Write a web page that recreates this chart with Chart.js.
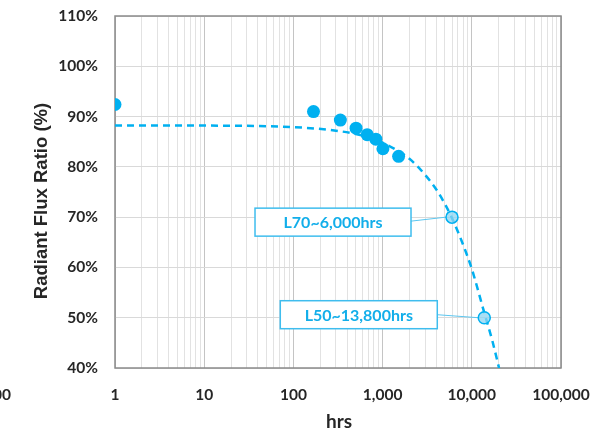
<!DOCTYPE html>
<html>
<head>
<meta charset="utf-8">
<script src="https://cdn.jsdelivr.net/npm/chart.js@4/dist/chart.umd.min.js"></script>
<style>
  html, body { margin: 0; padding: 0; background: #ffffff; }
  #wrap { width: 615px; height: 433px; position: relative; }
</style>
</head>
<body>
<div id="wrap"><canvas id="c" width="615" height="433"></canvas></div>
<script>
// ---- data ----
const xMajor = [1, 10, 100, 1000, 10000, 100000];
const xTickLabels = ['1', '10', '100', '1,000', '10,000', '100,000'];
const yTicks = [40, 50, 60, 70, 80, 90, 100, 110];

const measHours = [1, 168, 336, 504, 672, 840, 1008, 1512];
const measFlux  = [92.4, 91.0, 89.3, 87.7, 86.4, 85.5, 83.6, 82.1];

const fitHours = [1, 10, 100, 300, 600, 1000, 2000, 3000, 4000, 5000, 6000, 8000, 10000, 13800, 17000, 20200];
const fitFlux  = [88.2, 88.2, 87.9, 87.2, 86.2, 84.8, 81.6, 78.4, 75.5, 72.6, 69.8, 64.5, 59.7, 51.0, 45.4, 40.0];

const lifeLabels = ['L70~6,000hrs', 'L50~13,800hrs'];
const lifeHours  = [6000, 13800];
const lifeFlux   = [70, 50];

const yTitle = 'Radiant Flux Ratio (%)';
const xTitle = 'hrs';

// ---- styling ----
const BLUE = '#00B0F0';
const TXT = '#262626';
const FONT = 'Lato, "Open Sans", sans-serif';

const deco = {
  id: 'deco',
  beforeDatasetsDraw(chart) {
    const {ctx, chartArea: a, scales: {x, y}} = chart;
    ctx.save();
    // frame
    ctx.strokeStyle = '#8a8a8a';
    ctx.lineWidth = 1.5;
    ctx.strokeRect(a.left, a.top, a.right - a.left, a.bottom - a.top);
    // annotation boxes + leader lines
    const boxOff = [{dx: -41, dy: 5, w: 156, h: 28, ly: 4}, {dx: -47, dy: -3, w: 157, h: 28, ly: -3}];
    lifeLabels.forEach((lab, i) => {
      const px = x.getPixelForValue(lifeHours[i]);
      const py = y.getPixelForValue(lifeFlux[i]);
      const o = boxOff[i];
      const right = px + o.dx, cy = py + o.dy;
      const left = right - o.w, top = cy - o.h / 2;
      // leader
      ctx.strokeStyle = '#5cc6ef';
      ctx.lineWidth = 1;
      ctx.beginPath();
      ctx.moveTo(right, py + o.ly);
      ctx.lineTo(px - 6, py);
      ctx.stroke();
      // box
      ctx.fillStyle = '#ffffff';
      ctx.fillRect(left, top, o.w, o.h);
      ctx.strokeStyle = '#3fbdee';
      ctx.lineWidth = 1.5;
      ctx.strokeRect(left, top, o.w, o.h);
      ctx.fillStyle = '#12aeea';
      ctx.font = 'bold 16px ' + FONT;
      ctx.textAlign = 'center';
      ctx.textBaseline = 'middle';
      ctx.fillText(lab, left + o.w / 2, cy + 1);
    });
    ctx.restore();
  },
  afterDraw(chart) {
    const {ctx, chartArea: a} = chart;
    ctx.save();
    ctx.fillStyle = TXT;
    ctx.textAlign = 'center';
    ctx.textBaseline = 'middle';
    ctx.font = 'bold 19px ' + FONT;
    ctx.fillText(xTitle, (a.left + a.right) / 2 + 1, 422);
    ctx.translate(42, 201);
    ctx.rotate(-Math.PI / 2);
    ctx.font = 'bold 18.5px "Liberation Sans", Arial, sans-serif';
    ctx.fillText(yTitle, 0, 0);
    ctx.restore();
    // clipped leftover label at left edge
    ctx.save();
    ctx.fillStyle = TXT;
    ctx.font = 'bold 15.5px ' + FONT;
    ctx.textAlign = 'right';
    ctx.textBaseline = 'middle';
    ctx.fillText('100,000', 11, 395);
    ctx.restore();
  }
};

new Chart(document.getElementById('c'), {
  type: 'scatter',
  data: {
    datasets: [
      {
        label: 'life',
        data: lifeHours.map((h, i) => ({x: h, y: lifeFlux[i]})),
        showLine: false,
        pointRadius: 6,
        pointBackgroundColor: 'rgba(140, 212, 242, 0.75)',
        pointBorderColor: BLUE,
        pointBorderWidth: 1.5
      },
      {
        label: 'measured',
        data: measHours.map((h, i) => ({x: h, y: measFlux[i]})),
        showLine: false,
        pointRadius: 6.5,
        pointBackgroundColor: BLUE,
        pointBorderWidth: 0
      },
      {
        label: 'fit',
        data: fitHours.map((h, i) => ({x: h, y: fitFlux[i]})),
        showLine: true,
        borderColor: BLUE,
        borderWidth: 2.5,
        borderDash: [7, 5],
        pointRadius: 0,
        cubicInterpolationMode: 'monotone',
        clip: 0
      }
    ]
  },
  options: {
    responsive: false,
    animation: false,
    events: [],
    layout: {padding: {left: 0, top: 16, right: 54, bottom: 0}},
    plugins: {legend: {display: false}, tooltip: {enabled: false}},
    scales: {
      x: {
        type: 'logarithmic',
        min: 1,
        max: 100000,
        afterBuildTicks(scale) {
          const t = [];
          xMajor.forEach(m => {
            for (let k = 1; k <= 9; k++) {
              const v = m * k;
              if (v <= xMajor[xMajor.length - 1]) t.push({value: v});
            }
          });
          scale.ticks = t;
        },
        afterFit(s) { s.height = 65; s.paddingLeft = 0; s.paddingRight = 0; s.paddingTop = 0; s.paddingBottom = 0; },
        ticks: {
          autoSkip: false,
          maxRotation: 0,
          padding: 18,
          color: TXT,
          font: {family: FONT, size: 15.5, weight: 'bold'},
          callback: (v) => { const i = xMajor.indexOf(v); return i >= 0 ? xTickLabels[i] : ''; }
        },
        grid: {
          drawTicks: false,
          lineWidth: 1,
          color: (c) => (c.tick && xMajor.indexOf(c.tick.value) >= 0) ? '#c4c4c4' : '#e2e2e2'
        },
        border: {display: false}
      },
      y: {
        min: yTicks[0],
        max: yTicks[yTicks.length - 1],
        afterBuildTicks(scale) { scale.ticks = yTicks.map(v => ({value: v})); },
        afterFit(s) { s.width = 115; s.paddingTop = 0; s.paddingBottom = 0; s.paddingLeft = 0; s.paddingRight = 0; },
        ticks: {
          padding: 17,
          color: TXT,
          font: {family: FONT, size: 15.5, weight: 'bold'},
          callback: (v) => v + '%'
        },
        grid: {drawTicks: false, color: '#d9d9d9', lineWidth: 1},
        border: {display: false}
      }
    }
  },
  plugins: [deco]
});
</script>
</body>
</html>
